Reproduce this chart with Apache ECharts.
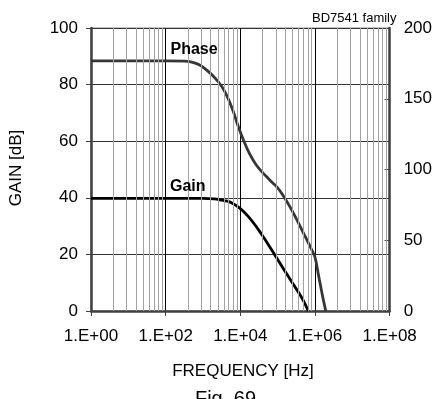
<!DOCTYPE html>
<html>
<head>
<meta charset="utf-8">
<script src="https://cdn.jsdelivr.net/npm/echarts@6/dist/echarts.min.js"></script>
<style>
html,body{margin:0;padding:0;background:#fff;}
#chart{width:435px;height:399px;}
</style>
</head>
<body>
<div id="chart"></div>
<script>
// exponent of frequency (log10 Hz)
const gainLogF = [0, 1, 2, 3, 3.3, 3.5, 3.65, 3.8, 3.95, 4.1, 4.25, 4.4, 4.55, 4.7, 4.85, 5.0, 5.15, 5.3, 5.45, 5.6, 5.7, 5.82];
const gainDb   = [39.8, 39.8, 39.8, 39.8, 39.6, 39.2, 38.8, 38.0, 36.7, 35.0, 32.8, 30.3, 27.5, 24.5, 21.4, 18.2, 15.0, 11.9, 8.8, 5.7, 3.4, 0];

const phaseLogF = [0, 1, 2, 2.5, 2.7, 2.9, 3.1, 3.3, 3.5, 3.65, 3.8, 3.95, 4.1, 4.25, 4.4, 4.55, 4.7, 4.85, 5.0, 5.15, 5.3, 5.45, 5.6, 5.75, 5.9, 6.0, 6.1, 6.2, 6.29];
const phaseDeg  = [176.7, 176.7, 176.7, 176.6, 175.9, 174.0, 170.2, 165.3, 158.8, 151.5, 141.8, 130.0, 119.8, 111.0, 104.3, 99.2, 95.0, 91.0, 87.0, 81.5, 75.0, 67.8, 60.0, 52.0, 44.0, 38.0, 24.5, 11.0, 0];

const xTickLabels = ['1.E+00', '1.E+02', '1.E+04', '1.E+06', '1.E+08'];
const leftTicks = [0, 20, 40, 60, 80, 100];
const rightTicks = [0, 50, 100, 150, 200];

const FONT = '"Liberation Sans", Arial, sans-serif';

const gainData = gainLogF.map((x, i) => [x, gainDb[i]]);
const phaseData = phaseLogF.map((x, i) => [x, phaseDeg[i]]);

// minor grid lines (Excel log base-100 style)
const minorLines = [];
for (let d = 0; d < 8; d += 2) {
  for (let k = 2; k <= 9; k++) {
    minorLines.push({ xAxis: d + 2 * Math.log10(k) });
  }
}

const chart = echarts.init(document.getElementById('chart'), null, { renderer: 'canvas' });
chart.setOption({
  animation: false,
  backgroundColor: '#fff',
  grid: {
    left: 91, right: 44, top: 28, bottom: 88,
    show: true, borderColor: '#8a8a8a', borderWidth: 1, backgroundColor: 'transparent'
  },
  xAxis: {
    type: 'value', min: 0, max: 8, interval: 2,
    axisLine: { show: true, onZero: false, lineStyle: { color: '#404040', width: 2.5 } },
    axisTick: { show: true, length: 5, lineStyle: { color: '#404040', width: 1 } },
    axisLabel: {
      margin: 17, fontSize: 17, fontFamily: FONT, color: '#000',
      formatter: v => xTickLabels[Math.round(v / 2)]
    },
    splitLine: { show: true, lineStyle: { color: '#000', width: 1 } }
  },
  yAxis: [
    {
      type: 'value', min: leftTicks[0], max: leftTicks[leftTicks.length - 1], interval: 20,
      position: 'left',
      axisLine: { show: true, onZero: false, lineStyle: { color: '#404040', width: 2.5 } },
      axisTick: { show: true, length: 5, lineStyle: { color: '#404040', width: 1 } },
      axisLabel: { margin: 13, fontSize: 17, fontFamily: FONT, color: '#000' },
      splitLine: { show: true, lineStyle: { color: '#333', width: 1 } }
    },
    {
      type: 'value', min: rightTicks[0], max: rightTicks[rightTicks.length - 1], interval: 50,
      position: 'right',
      axisLine: { show: true, onZero: false, lineStyle: { color: '#404040', width: 2.5 } },
      axisTick: { show: true, inside: true, length: 5, lineStyle: { color: '#404040', width: 1 } },
      axisLabel: { margin: 14, fontSize: 17, fontFamily: FONT, color: '#000' },
      splitLine: { show: false }
    }
  ],
  series: [
    {
      type: 'line', data: [], z: 1, silent: true,
      markLine: {
        silent: true, symbol: ['none', 'none'], animation: false,
        label: { show: false },
        lineStyle: { color: '#a3a3a3', width: 1, type: 'solid' },
        data: minorLines
      }
    },
    {
      name: 'Phase', type: 'line', yAxisIndex: 1, data: phaseData,
      showSymbol: false, smooth: 0.4, z: 3,
      lineStyle: { color: '#363636', width: 2.8 }
    },
    {
      name: 'Gain', type: 'line', yAxisIndex: 0, data: gainData,
      showSymbol: false, smooth: 0.4, z: 4,
      lineStyle: { color: '#000', width: 2.8 }
    }
  ],
  graphic: [
    { type: 'text', x: 16.5, y: 168, rotation: Math.PI / 2,
      style: { text: 'GAIN [dB]', font: '17px ' + FONT, fill: '#000', align: 'center', verticalAlign: 'middle' } },
    { type: 'text', x: 243, y: 371,
      style: { text: 'FREQUENCY [Hz]', font: '17px ' + FONT, fill: '#000', align: 'center', verticalAlign: 'middle' } },
    { type: 'text', x: 225.5, y: 399,
      style: { text: 'Fig. 69', font: '20px ' + FONT, fill: '#000', align: 'center', verticalAlign: 'middle' } },
    { type: 'text', x: 396.5, y: 18,
      style: { text: 'BD7541 family', font: '13px ' + FONT, fill: '#000', align: 'right', verticalAlign: 'middle' } },
    { type: 'text', x: 170.5, y: 49.5, z: 10,
      style: { text: 'Phase', font: 'bold 16px ' + FONT, fill: '#000', align: 'left', verticalAlign: 'middle' } },
    { type: 'text', x: 170, y: 187, z: 10,
      style: { text: 'Gain', font: 'bold 16px ' + FONT, fill: '#000', align: 'left', verticalAlign: 'middle' } }
  ]
});
</script>
</body>
</html>
